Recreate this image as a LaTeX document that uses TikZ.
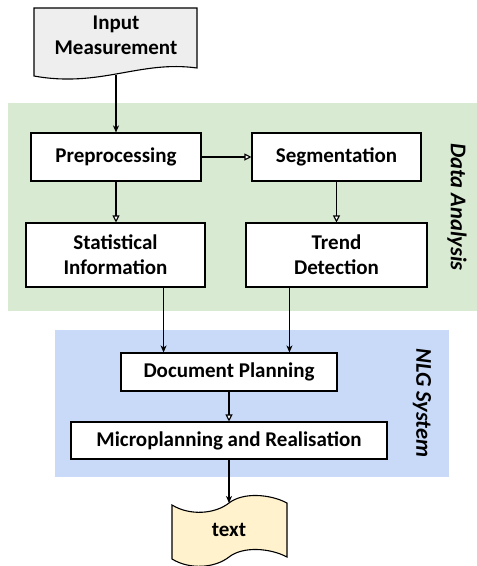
\documentclass[tikz,border=0pt]{standalone}
\usepackage{fontspec}
\setmainfont{Carlito}
\usetikzlibrary{arrows.meta,calc}
\definecolor{dagreen}{RGB}{217,234,211}
\definecolor{nlgblue}{RGB}{201,218,248}
\definecolor{ingray}{RGB}{238,238,238}
\definecolor{outyellow}{RGB}{255,242,204}
\tikzset{
  x=1pt, y=-1pt,
  every node/.style={font=\fontsize{21}{25}\selectfont\bfseries, align=center},
  stepbox/.style={draw, line width=1.1pt, fill=white, inner sep=0pt},
  shapeline/.style={draw, line width=1.1pt},
  arr/.style={line width=1.1pt, -{Stealth[length=7pt,width=6pt,inset=2pt]}},
  oarr/.style={line width=1.1pt, -{Triangle[open,length=7pt,width=7pt,fill=white]}},
  panellabel/.style={font=\fontsize{22.5}{26}\selectfont\bfseries\itshape, rotate=-90}
}
\begin{document}
\begin{tikzpicture}
\useasboundingbox (0,0) rectangle (477,566);
% background panels
\fill[dagreen] (8,103) rectangle (477,311);
\fill[nlgblue] (55,330) rectangle (449,477);
\node[panellabel] (dalabel) at (457,207) {Data Analysis};
\node[panellabel] (nlglabel) at (422,403) {NLG System};

% input document
\path[shapeline, fill=ingray] (34,8) -- (197,8) -- (197,68)
  .. controls (140,60) and (100,88) .. (34,76) -- cycle;
\node (input) at (116,35) {Input\\Measurement};
\coordinate (inbot) at (116,75);

% processing steps
\node[stepbox, minimum width=170pt, minimum height=48pt] (pre) at (116,157) {Preprocessing};
\node[stepbox, minimum width=169pt, minimum height=48pt] (seg) at (336.5,157) {Segmentation};
\node[stepbox, minimum width=179pt, minimum height=64pt] (stat) at (115.5,255) {Statistical\\Information};
\node[stepbox, minimum width=181pt, minimum height=64pt] (trend) at (336.5,255) {Trend\\Detection};
\node[stepbox, minimum width=216pt, minimum height=38pt] (doc) at (229,372) {Document Planning};
\node[stepbox, minimum width=316pt, minimum height=37pt] (micro) at (229,440.5) {Microplanning and Realisation};

% output text tape
\path[shapeline, fill=outyellow] (172,505)
  .. controls (190,516) and (215,514) .. (229,503)
  .. controls (243,492) and (270,494) .. (287,503)
  -- (287,557)
  .. controls (270,548) and (243,546) .. (229,557)
  .. controls (215,568) and (190,570) .. (172,559) -- cycle;
\node (out) at (229,530) {text};
\coordinate (outtop) at (229,503);

% connectors
\draw[arr] (inbot) -- (pre.north);
\draw[oarr] (pre.east) -- (seg.west);
\draw[oarr] (pre.south) -- (stat.north -| pre.south);
\draw[oarr] (seg.south) -- (trend.north -| seg.south);
\coordinate (s1) at ($(stat.south east)+(-42,0)$);
\coordinate (t1) at ($(trend.south west)+(44,0)$);
\draw[arr] (s1) -- (s1 |- doc.north);
\draw[arr] (t1) -- (t1 |- doc.north);
\draw[oarr] (doc.south) -- (micro.north);
\draw[arr] (micro.south) -- (outtop);
\end{tikzpicture}
\end{document}
